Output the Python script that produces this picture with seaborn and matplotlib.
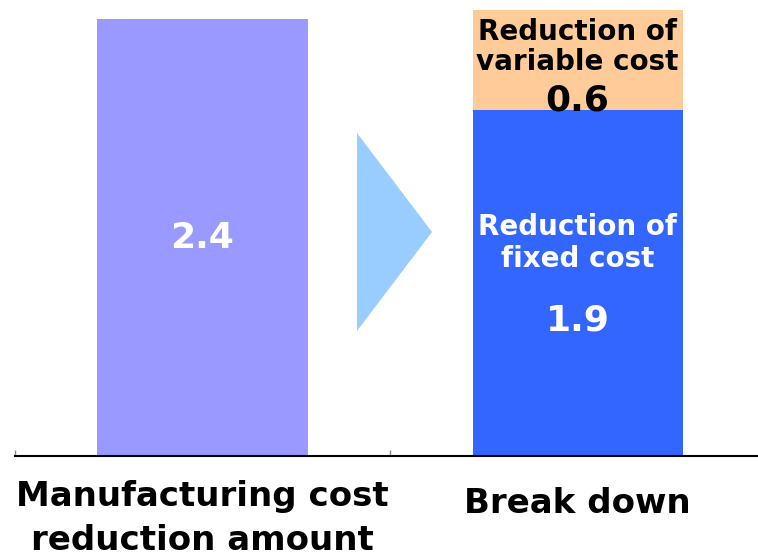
import matplotlib
matplotlib.use("Agg")
import matplotlib.pyplot as plt
from matplotlib.patches import Polygon
from matplotlib.transforms import ScaledTranslation
import seaborn as sns
import pandas as pd

categories = ["Manufacturing cost\nreduction amount", "Break down"]
total_reduction = 2.4
fixed_cost = 1.9
variable_cost = 0.6
segment_labels = ["Reduction of\nfixed cost", "Reduction of\nvariable cost"]

c_total = "#9999FF"
c_fixed = "#3366FF"
c_var = "#FFCC99"
c_arrow = "#99CCFF"

sns.set_theme(style="white")
plt.rcParams["font.family"] = ["DejaVu Sans"]

fig = plt.figure(figsize=(7.58, 5.60), dpi=100)
ax = fig.add_axes([15 / 758, (560 - 456) / 560, 750 / 758, 446 / 560])

top_df = pd.DataFrame({"cat": categories,
                       "val": [total_reduction, fixed_cost + variable_cost]})
sns.barplot(data=top_df, x="cat", y="val", order=categories, hue="cat",
            palette=[c_total, c_var], width=0.56, saturation=1, legend=False,
            linewidth=0, ax=ax)
fix_df = pd.DataFrame({"cat": [categories[1]], "val": [fixed_cost]})
sns.barplot(data=fix_df, x="cat", y="val", order=categories, color=c_fixed,
            width=0.56, saturation=1, linewidth=0, ax=ax)

ax.set_xlim(-0.5, 1.5)
ax.set_ylim(0, 2.45)
ax.set_xlabel("")
ax.set_ylabel("")
ax.set_yticks([])
for s in ["left", "right", "top"]:
    ax.spines[s].set_visible(False)
ax.spines["bottom"].set_color("black")
ax.spines["bottom"].set_linewidth(1.5)

ax.set_xticks([0, 1])
ax.set_xticklabels(categories, fontsize=24.5, fontweight="bold", color="black",
                   linespacing=1.45)
ax.tick_params(axis="x", which="major", length=0, pad=17)
ax.set_xticks([-0.5, 0.5], minor=True)
ax.tick_params(axis="x", which="minor", direction="in", length=4, width=1,
               color="#888888", bottom=True)
lbl = ax.get_xticklabels()[1]
lbl.set_transform(lbl.get_transform() +
                  ScaledTranslation(0, -5 / 72, fig.dpi_scale_trans))

# value labels
ax.text(0, total_reduction / 2, f"{total_reduction}", ha="center", va="center",
        color="white", fontsize=26, fontweight="bold")
ax.text(1, 1.17, segment_labels[0], ha="center", va="center", color="white",
        fontsize=20, fontweight="bold", linespacing=1.15)
ax.text(1, 0.744, f"{fixed_cost}", ha="center", va="center", color="white",
        fontsize=26, fontweight="bold")
ax.text(1, 2.247, segment_labels[1], ha="center", va="center", color="black",
        fontsize=20, fontweight="bold", linespacing=1.1)
ax.text(1, 1.953, f"{variable_cost}", ha="center", va="center", color="black",
        fontsize=26, fontweight="bold")

# arrow triangle
tri = Polygon([[357 / 758, 1 - 133 / 560], [357 / 758, 1 - 331 / 560],
               [432 / 758, 1 - 232 / 560]], closed=True,
              transform=fig.transFigure, facecolor=c_arrow, edgecolor="none",
              clip_on=False)
ax.add_patch(tri)

fig.savefig("out.png", dpi=100)
